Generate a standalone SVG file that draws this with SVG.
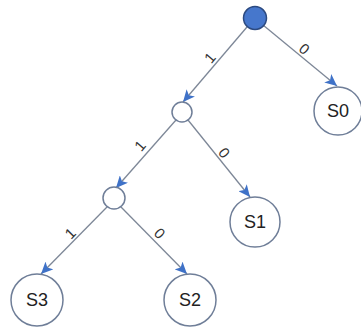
<svg xmlns="http://www.w3.org/2000/svg" width="361" height="329" viewBox="0 0 361 329">
<style>
.edge{stroke:#7d8797;stroke-width:1.3;fill:none;marker-end:url(#arr)}
.node{fill:#fff;stroke:#6f7e98;stroke-width:1.5}
.root{fill:#4677cc;stroke:#2c4a80;stroke-width:1.5}
.lbl{font-family:"Liberation Sans",Arial,sans-serif;font-size:18px;fill:#222;text-anchor:middle}
.el{font-family:"Liberation Sans",Arial,sans-serif;font-size:15px;fill:#333;text-anchor:middle}
</style>
<defs>
<marker id="arr" markerUnits="userSpaceOnUse" markerWidth="13" markerHeight="11" refX="12" refY="5.5" orient="auto">
<path d="M0,0 L12,5.5 L0,11 L3,5.5 z" fill="#3f72c8"/>
</marker>
</defs>
<rect width="361" height="329" fill="#fff"/>
<g id="connectors">
<line class="edge" x1="263" y1="25" x2="337" y2="86"/>
<line class="edge" x1="247" y1="27" x2="183" y2="102"/>
<line class="edge" x1="188" y1="120" x2="250" y2="197"/>
<line class="edge" x1="176" y1="120" x2="116" y2="188"/>
<line class="edge" x1="107" y1="207" x2="41" y2="274"/>
<line class="edge" x1="121" y1="207" x2="187" y2="274"/>
<text class="el" transform="translate(301,53) rotate(40)">0</text>
<text class="el" transform="translate(214,61) rotate(-50)">1</text>
<text class="el" transform="translate(220,156) rotate(52)">0</text>
<text class="el" transform="translate(144,149) rotate(-49)">1</text>
<text class="el" transform="translate(74,237) rotate(-45)">1</text>
<text class="el" transform="translate(156,237) rotate(46)">0</text>
</g>
<g id="root"><circle class="root" cx="255" cy="18" r="11.5"/></g>
<g id="n1"><circle class="node" cx="182" cy="112" r="10"/></g>
<g id="n2"><circle class="node" cx="114" cy="198" r="11"/></g>
<g id="S0"><circle class="node" cx="338" cy="111" r="24"/><text class="lbl" x="338" y="117">S0</text></g>
<g id="S1"><circle class="node" cx="255" cy="222" r="25"/><text class="lbl" x="255" y="228">S1</text></g>
<g id="S2"><circle class="node" cx="190" cy="300" r="26"/><text class="lbl" x="190" y="306">S2</text></g>
<g id="S3"><circle class="node" cx="37" cy="300" r="26"/><text class="lbl" x="37" y="306">S3</text></g>
</svg>
